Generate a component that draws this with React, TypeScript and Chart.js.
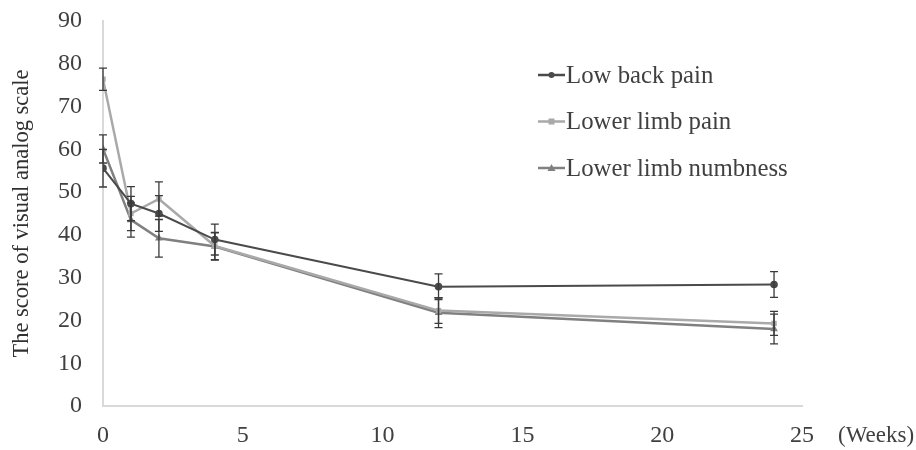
import React, { useEffect, useRef } from "react";
import { Chart, registerables } from "chart.js";

Chart.register(...registerables);

const weeks = [0, 1, 2, 4, 12, 24];
const seriesNames = ["Low back pain", "Lower limb pain", "Lower limb numbness"];
const lowBackPain = [55.6, 47.3, 45.0, 38.9, 27.9, 28.4];
const lowBackPainErr = [4.4, 4.0, 4.2, 3.6, 3.0, 3.0];
const lowerLimbPain = [76.4, 45.0, 48.4, 37.4, 22.3, 19.3];
const lowerLimbPainErr = [2.6, 4.0, 4.0, 3.2, 3.0, 2.8];
const lowerLimbNumbness = [60.1, 43.5, 39.2, 37.3, 21.8, 18.0];
const lowerLimbNumbnessErr = [3.3, 4.0, 4.4, 3.2, 3.5, 3.5];
const yTicks = [0, 10, 20, 30, 40, 50, 60, 70, 80, 90];
const xTicks = [0, 5, 10, 15, 20, 25];

const colors = ["#4a4a4a", "#a9a9a9", "#808080"];
const markers = ["circle", "rect", "triangle"];
const FONT = "'Liberation Serif', 'Times New Roman', serif";

export default function App() {
  const ref = useRef<HTMLCanvasElement>(null);
  useEffect(() => {
    document.body.style.margin = "0";
    const values = [lowBackPain, lowerLimbPain, lowerLimbNumbness];
    const errs = [lowBackPainErr, lowerLimbPainErr, lowerLimbNumbnessErr];

    const errorBars = {
      id: "errorBars",
      afterDatasetsDraw(chart: any) {
        const ctx = chart.ctx;
        const ys = chart.scales.y;
        ctx.save();
        values.forEach((vals, i) => {
          const meta = chart.getDatasetMeta(i);
          ctx.strokeStyle = "#3a3a3a";
          ctx.lineWidth = 1.3;
          vals.forEach((v, j) => {
            const x = meta.data[j].x;
            const t = ys.getPixelForValue(v + errs[i][j]);
            const b = ys.getPixelForValue(v - errs[i][j]);
            ctx.beginPath();
            ctx.moveTo(x, t);
            ctx.lineTo(x, b);
            ctx.moveTo(x - 4, t);
            ctx.lineTo(x + 4, t);
            ctx.moveTo(x - 4, b);
            ctx.lineTo(x + 4, b);
            ctx.stroke();
          });
        });
        ctx.restore();
      },
    };

    const extras = {
      id: "extras",
      afterDraw(chart: any) {
        const ctx = chart.ctx;
        ctx.save();
        ctx.font = `23px ${FONT}`;
        ctx.fillStyle = "#404040";
        ctx.textBaseline = "middle";
        ctx.textAlign = "left";
        ctx.fillText("(Weeks)", 838, 436);
        // legend
        const rows = [75, 121.5, 168];
        seriesNames.forEach((name, i) => {
          const y = rows[i];
          ctx.strokeStyle = colors[i];
          ctx.lineWidth = 2.5;
          ctx.beginPath();
          ctx.moveTo(538, y);
          ctx.lineTo(565, y);
          ctx.stroke();
          ctx.fillStyle = colors[i];
          const cx = 551.5;
          ctx.beginPath();
          if (i === 0) {
            ctx.arc(cx, y, 3, 0, Math.PI * 2);
          } else if (i === 1) {
            ctx.rect(cx - 3, y - 3, 6, 6);
          } else {
            ctx.moveTo(cx, y - 4);
            ctx.lineTo(cx + 4, y + 3);
            ctx.lineTo(cx - 4, y + 3);
            ctx.closePath();
          }
          ctx.fill();
          ctx.fillStyle = "#404040";
          ctx.font = `24.8px ${FONT}`;
          ctx.fillText(name, 566, y + 1);
        });
        ctx.restore();
      },
    };

    const chart = new Chart(ref.current!, {
      type: "line",
      data: {
        datasets: values.map((vals, i) => ({
          label: seriesNames[i],
          data: vals.map((v, j) => ({ x: weeks[j], y: v })),
          borderColor: colors[i],
          backgroundColor: colors[i],
          borderWidth: i === 0 ? 2 : 2.5,
          pointStyle: markers[i] as any,
          pointRadius: i === 2 ? 4.5 : 3.8,
          pointBorderWidth: 0,
          tension: 0,
        })),
      },
      options: {
        responsive: false,
        animation: false,
        layout: { padding: { left: 0, right: 114, top: 21, bottom: 0 } },
        plugins: { legend: { display: false }, tooltip: { enabled: false } },
        scales: {
          x: {
            type: "linear",
            min: 0,
            max: 25,
            afterBuildTicks: (s: any) => {
              s.ticks = xTicks.map((v) => ({ value: v }));
            },
            afterFit: (s: any) => {
              s.height = 44;
              s.paddingLeft = 0;
              s.paddingRight = 0;
            },
            grid: { display: false, drawTicks: false },
            border: { display: true, color: "#d9d9d9", width: 2 },
            ticks: {
              padding: 15,
              color: "#404040",
              font: { family: FONT, size: 24 },
            },
          },
          y: {
            min: 0,
            max: 90,
            afterBuildTicks: (s: any) => {
              s.ticks = yTicks.map((v) => ({ value: v }));
            },
            afterFit: (s: any) => {
              s.width = 103;
              s.paddingTop = 0;
              s.paddingBottom = 0;
            },
            grid: { display: false, drawTicks: false },
            border: { display: true, color: "#d9d9d9", width: 2 },
            ticks: {
              padding: 21,
              color: "#404040",
              font: { family: FONT, size: 24 },
            },
            title: {
              display: true,
              text: "The score of visual analog scale",
              color: "#303030",
              font: { family: FONT, size: 22.5 },
              padding: { top: 9, bottom: 0 },
            },
          },
        },
      },
      plugins: [errorBars, extras],
    });
    return () => chart.destroy();
  }, []);
  return (
    <div style={{ width: 916, height: 450 }}>
      <canvas ref={ref} width={916} height={450} style={{ display: "block" }} />
    </div>
  );
}
